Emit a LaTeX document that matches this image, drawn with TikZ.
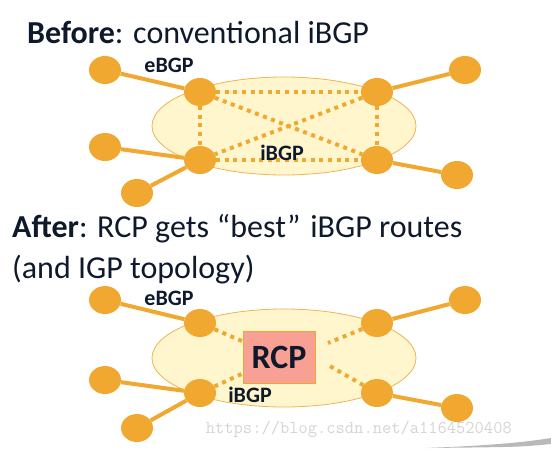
\documentclass[tikz,border=0pt]{standalone}
\usepackage{fontspec}
\setmainfont{Carlito}
\usepackage{tikz}
\usetikzlibrary{shapes.geometric}
\definecolor{router}{HTML}{F0A830}
\definecolor{asfill}{HTML}{FFF6CE}
\definecolor{asline}{HTML}{EDB454}
\definecolor{rcpfill}{HTML}{F9A094}
\definecolor{inktext}{HTML}{0E1A2B}
\definecolor{wmark}{HTML}{D4D4D4}

\tikzset{
  rtr/.style={ellipse, fill=router, minimum width=32pt, minimum height=28pt, inner sep=0pt},
  ebgpline/.style={router, line width=4pt},
  ibgpline/.style={router, line width=4pt, dash pattern=on 4pt off 4.6pt},
  lbl/.style={font=\fontsize{22}{24}\selectfont\bfseries, text=inktext, inner sep=0pt},
  title/.style={font=\fontsize{32}{36}\selectfont, text=inktext, anchor=base west, inner sep=0pt}
}

\begin{document}
\begin{tikzpicture}[x=1pt, y=-1pt]
\useasboundingbox (0,0) rectangle (551,448);

% --- Before (top) ---
\node[title] (t1) at (27,43) {\textbf{Before}: conventional iBGP};
\begin{scope}
  \fill[asfill] (284,126) ellipse [x radius=132, y radius=49];
  \draw[asline, line width=0.8pt] (284,126) ellipse [x radius=132, y radius=49];

  % routers inside the AS
  \node[rtr] (r1) at (200,92) {};
  \node[rtr] (r2) at (377,92) {};
  \node[rtr] (r3) at (200,160) {};
  \node[rtr] (r4) at (377,160) {};

  % neighbours outside
  \node[rtr] (e1) at (105,70) {};
  \node[rtr] (e2) at (465,70) {};
  \node[rtr] (e3) at (105,147) {};
  \node[rtr] (e4) at (457,175) {};
  \node[rtr] (e5) at (137,193) {};

  \draw[ebgpline] (e1) -- (r1);
  \draw[ebgpline] (e2) -- (r2);
  \draw[ebgpline] (e3) -- (r3);
  \draw[ebgpline] (e5) -- (r3);
  \draw[ebgpline] (e4) -- (r4);

  % full mesh
  \draw[ibgpline] (r1) -- (r2);
  \draw[ibgpline] (r3) -- (r4);
  \draw[ibgpline] (r1) -- (r3);
  \draw[ibgpline] (r2) -- (r4);
  \draw[ibgpline] (r1) -- (r4);
  \draw[ibgpline] (r2) -- (r3);

  \node[lbl] (eb1) at (169,65) {eBGP};
  \node[lbl] (ib1) at (282,153) {iBGP};
\end{scope}

% --- After (bottom) ---
\node[title] (t2) at (12,237) {\textbf{After}: RCP gets\hspace{8pt}“best”\hspace{10pt}iBGP routes};
\node[title] (t3) at (12,278) {(and IGP topology)};
\begin{scope}[shift={(0,232)}]
  \fill[asfill] (284,126) ellipse [x radius=132, y radius=49];
  \draw[asline, line width=0.8pt] (284,126) ellipse [x radius=132, y radius=49];

  \node[rtr] (s1) at (200,91) {};
  \node[rtr] (s2) at (377,91) {};
  \node[rtr] (s3) at (200,161) {};
  \node[rtr] (s4) at (377,161) {};

  \node[rtr] (f1) at (105,68) {};
  \node[rtr] (f2) at (465,68) {};
  \node[rtr] (f3) at (105,148) {};
  \node[rtr] (f4) at (457,176) {};
  \node[rtr] (f5) at (137,196) {};

  \draw[ebgpline] (f1) -- (s1);
  \draw[ebgpline] (f2) -- (s2);
  \draw[ebgpline] (f3) -- (s3);
  \draw[ebgpline] (f5) -- (s3);
  \draw[ebgpline] (f4) -- (s4);

  % route control platform
  \node[rectangle, fill=rcpfill, draw=router, line width=1pt, minimum width=72pt, minimum height=52pt,
        font=\fontsize{34}{36}\selectfont\bfseries, text=inktext] (rcp) at (279,125) {RCP};

  \coordinate (c2) at (328,111);
  \coordinate (c4) at (328,133);
  \draw[ibgpline] (s1) -- (rcp);
  \draw[ibgpline] (s3) -- (rcp);
  \draw[ibgpline] (s2) -- (c2);
  \draw[ibgpline] (s4) -- (c4);

  \node[lbl] (eb2) at (169,66) {eBGP};
  \node[lbl] (ib2) at (250,163) {iBGP};
\end{scope}

% watermark and page shadow
\node[font=\fontsize{18}{20}\selectfont\ttfamily, text=wmark, anchor=base east, inner sep=0pt] (wm) at (512,433) {https://blog.csdn.net/a1164520408};
\fill[gray!55] (425,448) .. controls (480,446) and (520,443) .. (551,438) -- (551,444) .. controls (520,447) .. (425,448);
\end{tikzpicture}
\end{document}
